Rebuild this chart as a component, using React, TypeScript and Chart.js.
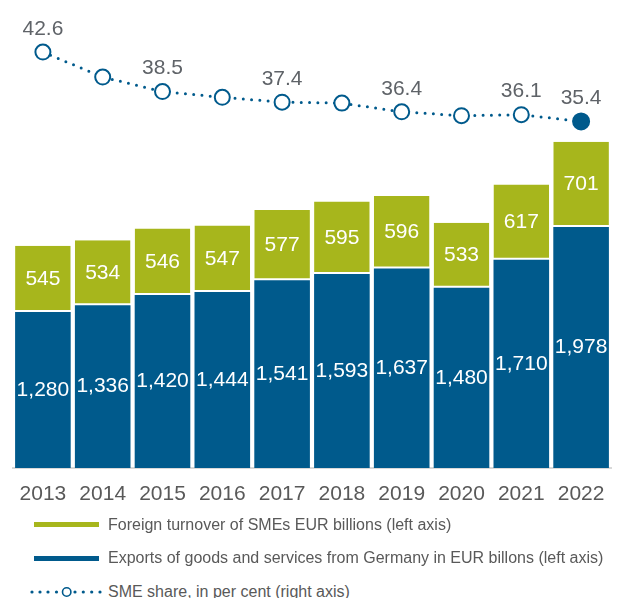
import React, { useEffect, useRef } from "react";
import { Chart, registerables } from "chart.js";

Chart.register(...registerables);

const years = ["2013", "2014", "2015", "2016", "2017", "2018", "2019", "2020", "2021", "2022"];
const exportsGermany = [1280, 1336, 1420, 1444, 1541, 1593, 1637, 1480, 1710, 1978];
const smeForeignTurnover = [545, 534, 546, 547, 577, 595, 596, 533, 617, 701];
const smeShare = [42.6, 40.0, 38.5, 37.9, 37.4, 37.3, 36.4, 36.0, 36.1, 35.4];
const labelledShareIndexes = [0, 2, 4, 6, 8, 9];
const legendLabels = [
  "Foreign turnover of SMEs EUR billions (left axis)",
  "Exports of goods and services from Germany in EUR billons (left axis)",
  "SME share, in per cent (right axis)",
];

const BLUE = "#005a8c";
const GREEN = "#a7b61c";
const FONT = "'Liberation Sans', Arial, Helvetica, sans-serif";

const valueLabelPlugin = {
  id: "valueLabels",
  afterDatasetsDraw(chart: any) {
    const ctx = chart.ctx;
    ctx.save();
    ctx.font = `21px ${FONT}`;
    ctx.textAlign = "center";
    ctx.textBaseline = "middle";
    chart.data.datasets.forEach((ds: any, di: number) => {
      const meta = chart.getDatasetMeta(di);
      if (meta.hidden) return;
      if (meta.type === "bar") {
        ctx.fillStyle = "#ffffff";
        meta.data.forEach((el: any, i: number) => {
          const p = el.getProps(["x", "y", "base"], true);
          ctx.fillText(Number(ds.data[i]).toLocaleString("en-US"), p.x, (p.y + p.base) / 2);
        });
      } else {
        ctx.fillStyle = "#5f6368";
        meta.data.forEach((el: any, i: number) => {
          if (!labelledShareIndexes.includes(i)) return;
          const p = el.getProps(["x", "y"], true);
          ctx.fillText(Number(ds.data[i]).toFixed(1), p.x, p.y - 23);
        });
      }
    });
    ctx.restore();
  },
};

function DottedMarker() {
  const dots = [4, 12, 20, 28.5, 47, 55.3, 63.7, 72];
  return (
    <svg width={76} height={12} style={{ display: "block" }}>
      {dots.map((x, i) => (
        <circle key={i} cx={x} cy={6} r={1.6} fill={BLUE} />
      ))}
      <circle cx={38.7} cy={6} r={4.2} fill="#fff" stroke={BLUE} strokeWidth={1.6} />
    </svg>
  );
}

export default function App() {
  const canvasRef = useRef<HTMLCanvasElement | null>(null);

  useEffect(() => {
    if (!canvasRef.current) return;
    Chart.defaults.font.family = FONT;
    const last = smeShare.length - 1;
    const chart = new Chart(canvasRef.current, {
      type: "bar",
      data: {
        labels: years,
        datasets: [
          {
            type: "line",
            label: legendLabels[2],
            data: smeShare,
            yAxisID: "y1",
            borderColor: BLUE,
            borderWidth: 3,
            borderDash: [0, 8.3],
            borderCapStyle: "round",
            tension: 0,
            pointRadius: smeShare.map((_, i) => (i === last ? 8 : 7.5)),
            pointBackgroundColor: smeShare.map((_, i) => (i === last ? BLUE : "#ffffff")),
            pointBorderColor: BLUE,
            pointBorderWidth: 2,
            order: 0,
          } as any,
          {
            type: "bar",
            label: legendLabels[1],
            data: exportsGermany,
            yAxisID: "y",
            backgroundColor: BLUE,
            borderWidth: 0,
            stack: "s",
            order: 1,
          },
          {
            type: "bar",
            label: legendLabels[0],
            data: smeForeignTurnover,
            yAxisID: "y",
            backgroundColor: GREEN,
            borderColor: "#ffffff",
            borderWidth: { top: 0, left: 0, right: 0, bottom: 2 },
            borderSkipped: false,
            stack: "s",
            order: 1,
          },
        ],
      },
      options: {
        responsive: false,
        animation: false,
        layout: { padding: { left: 13, right: 5, top: 10, bottom: 2.8 } },
        datasets: { bar: { barPercentage: 0.93, categoryPercentage: 1 } },
        plugins: {
          legend: { display: false },
          tooltip: { enabled: false },
        },
        scales: {
          x: {
            stacked: true,
            offset: true,
            grid: { display: false, drawTicks: false },
            border: { display: true, color: "#d9d9d9", width: 2 },
            ticks: { color: "#595959", font: { size: 21, family: FONT }, padding: 14 },
          },
          y: { stacked: true, display: false, min: 0, max: 3760 },
          y1: { display: false, position: "right", min: -0.55, max: 46.96 },
        },
      },
      plugins: [valueLabelPlugin],
    });
    return () => chart.destroy();
  }, []);

  const rowCenters = [524.5, 558, 592];
  return (
    <div style={{ position: "absolute", left: 0, top: 0, width: 621, height: 598, overflow: "hidden", background: "#fff", fontFamily: FONT }}>
      <canvas ref={canvasRef} width={621} height={524} style={{ display: "block" }} />
      {legendLabels.map((label, i) => (
        <div
          key={i}
          style={{
            position: "absolute",
            left: 28,
            top: rowCenters[i] - 12,
            height: 24,
            display: "flex",
            alignItems: "center",
            whiteSpace: "nowrap",
          }}
        >
          <div style={{ width: 76, display: "flex", alignItems: "center" }}>
            {i < 2 ? (
              <div style={{ marginLeft: 6, width: 65, height: 5, background: i === 0 ? GREEN : BLUE }} />
            ) : (
              <DottedMarker />
            )}
          </div>
          <span style={{ marginLeft: 4, fontSize: 16, color: "#595959" }}>{label}</span>
        </div>
      ))}
    </div>
  );
}
